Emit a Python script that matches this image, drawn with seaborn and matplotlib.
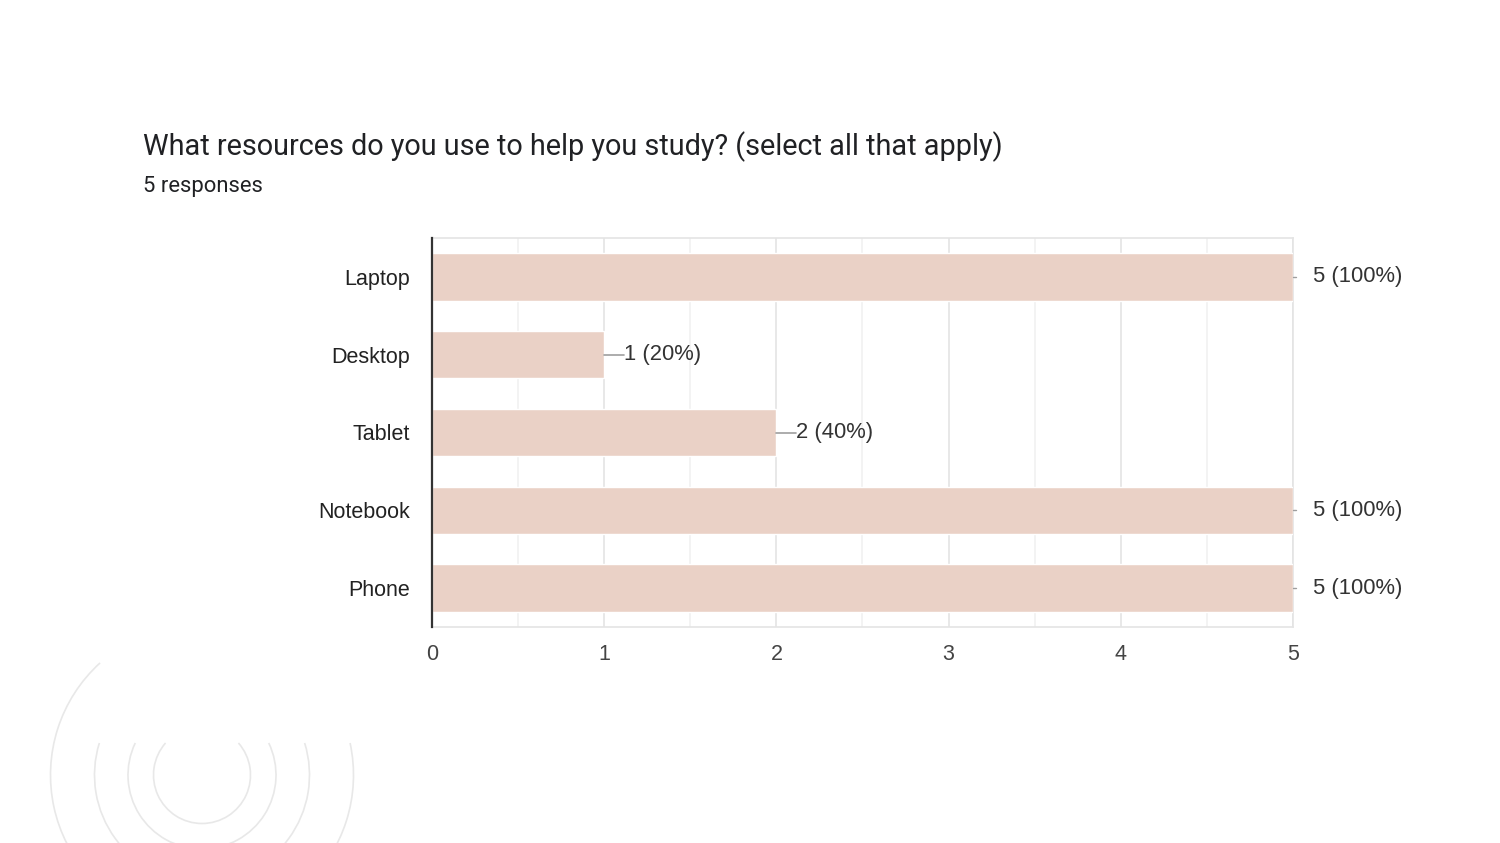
import numpy as np
import pandas as pd
import matplotlib
matplotlib.use("Agg")
import matplotlib.pyplot as plt
from matplotlib.patches import Arc
from matplotlib.ticker import MultipleLocator
import seaborn as sns

# chart data
categories = ["Laptop", "Desktop", "Tablet", "Notebook", "Phone"]
counts = [5, 1, 2, 5, 5]
n_responses = 5
title = "What resources do you use to help you study? (select all that apply)"
subtitle = "5 responses"

df = pd.DataFrame({"resource": categories, "count": counts})
df["label"] = [f"{c} ({round(100 * c / n_responses)}%)" for c in counts]

sns.set_style("white")
plt.rcParams["font.family"] = ["Liberation Sans", "DejaVu Sans"]

W, H = 1500, 843
fig = plt.figure(figsize=(W / 100, H / 100), dpi=100)

# background decoration: concentric arcs bottom-left
bg = fig.add_axes([0, 0, 1, 1], zorder=-1)
bg.set_xlim(0, W)
bg.set_ylim(0, H)
bg.axis("off")
cx, cy = 202, H - 775
cut = 32  # arcs are hidden above this height over the centre
for r in [48.5, 74, 107.5]:
    a = np.degrees(np.arcsin(cut / r))
    bg.add_patch(Arc((cx, cy), 2 * r, 2 * r, theta1=180 - a, theta2=360 + a,
                     color="#e8e8e8", lw=1.2))
r = 151.5
bg.add_patch(Arc((cx, cy), 2 * r, 2 * r, theta1=132.3,
                 theta2=360 + np.degrees(np.arcsin(cut / r)), color="#e8e8e8", lw=1.2))

# main chart
ax = fig.add_axes([432 / W, 1 - 627 / H, (1293 - 432) / W, (627 - 238) / H])
sns.barplot(data=df, x="count", y="resource", orient="h", color="#ead1c6",
            saturation=1, width=0.61, ax=ax, zorder=3)
ax.set_xlim(0, 5)
ax.set_ylim(4.5, -0.5)
ax.set_xlabel("")
ax.set_ylabel("")

ax.xaxis.set_major_locator(MultipleLocator(1))
ax.xaxis.set_minor_locator(MultipleLocator(0.5))
ax.grid(axis="x", which="major", color="#e4e4e4", lw=1.2, zorder=0)
ax.grid(axis="x", which="minor", color="#f1f1f1", lw=1.2, zorder=0)
ax.tick_params(axis="both", which="both", length=0, labelsize=15.5, colors="#222222")
ax.tick_params(axis="y", pad=16)
ax.tick_params(axis="x", pad=12, labelcolor="#444444")

for side in ["top", "right", "bottom"]:
    ax.spines[side].set_color("#e4e4e4")
    ax.spines[side].set_linewidth(1.2)
ax.spines["left"].set_color("#333333")
ax.spines["left"].set_linewidth(1.6)
ax.spines["left"].set_zorder(5)

# value labels with leader lines
xmax = max(counts)
px = 5 / (1293 - 432)  # data units per pixel
for i, (c, lab) in enumerate(zip(df["count"], df["label"])):
    gap = 20 * px
    if c == xmax:
        ax.plot([c, c + 3 * px], [i, i], color="#9e9e9e", lw=1, clip_on=False, zorder=4)
    else:
        ax.plot([c, c + gap], [i, i], color="#9e9e9e", lw=1.2, clip_on=False, zorder=4)
    ax.text(c + gap, i, lab, va="center", ha="left", fontsize=15.8,
            color="#333333", clip_on=False)

fig.text(143 / W, 1 - 155 / H, title, fontsize=20.8, color="#202124", va="baseline",
         family=["Roboto", "DejaVu Sans"])
fig.text(143 / W, 1 - 192 / H, subtitle, fontsize=15.8, color="#202124", va="baseline",
         family=["Roboto", "DejaVu Sans"])

fig.savefig("out.png", dpi=100, facecolor="white")
